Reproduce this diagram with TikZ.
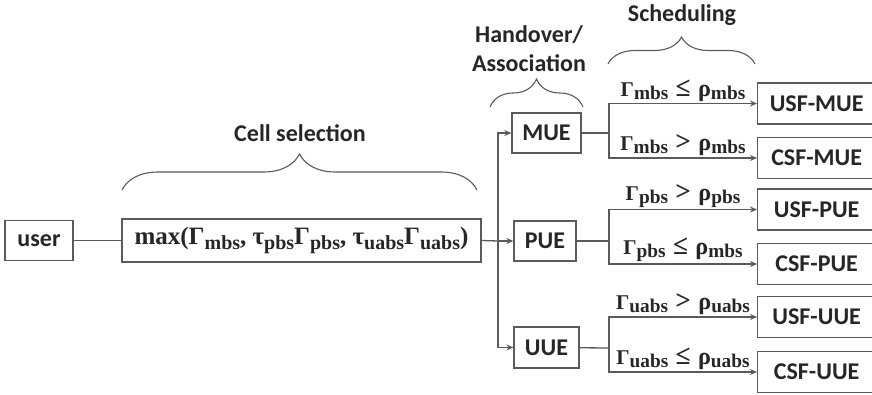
\documentclass[tikz,border=0pt]{standalone}
\usepackage{fontspec}
\setmainfont{Carlito}
\newfontfamily\greekfont{Liberation Serif}
\usetikzlibrary{decorations.pathreplacing,arrows.meta}
\definecolor{linegray}{HTML}{5A5A5A}
\definecolor{textgray}{HTML}{262626}
\newcommand{\lowsub}[1]{\raisebox{-0.2em}{\scalebox{0.8}{#1}}}
\newcommand{\condsub}[1]{\raisebox{-0.15em}{\scalebox{0.92}{#1}}}
\newcommand{\cond}[3]{{\greekfont\bfseries Γ\condsub{#1}\hspace{0.35em}\scalebox{1.3}{#2}\hspace{0.35em}\scalebox{1.15}{ρ}\condsub{#3}}}

\begin{document}
\begin{tikzpicture}[x=1pt,y=-1pt,thick]

    % `block' is used for every box.
    % `sched' is used for the scheduling boxes on the right.
    % `branch' and `wire' are the connectors, `cond' the conditions.
    \tikzstyle{block} = [draw=linegray,fill=white,line width=1.3pt,inner sep=0pt,
        text=textgray,font=\fontsize{24}{28}\selectfont\bfseries]
    \tikzstyle{sched} = [block,anchor=west,minimum width=118,minimum height=41]
    \tikzstyle{wire} = [draw=linegray,line width=1.3pt]
    \tikzstyle{branch} = [wire,-{Stealth[length=7pt,width=6pt]}]
    \tikzstyle{cond} = [above,inner sep=1.5pt,text=textgray,font=\fontsize{21}{25}\selectfont]
    \tikzstyle{title} = [text=textgray,font=\fontsize{24}{29}\selectfont\bfseries]
    \tikzstyle{group} = [draw=linegray,line width=1.1pt,decorate]
    %
    \useasboundingbox (0,0) rectangle (872,395);

    % Left part.
    \node[block,minimum width=68,minimum height=40] (user) at (39,240.5) {user};
    \node[block,minimum width=359,minimum height=43] (select) at (301.5,240.5)
        {\greekfont\fontsize{25}{30}\selectfont max(Γ\lowsub{mbs}, τ\lowsub{pbs}Γ\lowsub{pbs}, τ\lowsub{uabs}Γ\lowsub{uabs})};

    % Associated users.
    \node[block,minimum width=69,minimum height=40] (mue) at (546.5,133) {MUE};
    \node[block,minimum width=62,minimum height=40] (pue) at (545,241) {PUE};
    \node[block,minimum width=65,minimum height=41] (uue) at (546.5,347.5) {UUE};

    % Scheduling results.
    \node[sched] (usfm) at (757,103.5) {USF-MUE};
    \node[sched] (csfm) at (757,158) {CSF-MUE};
    \node[sched] (usfp) at (757,209.5) {USF-PUE};
    \node[sched] (csfp) at (757,264) {CSF-PUE};
    \node[sched] (usfu) at (757,317) {USF-UUE};
    \node[sched] (csfu) at (757,372) {CSF-UUE};

    \coordinate (hub) at (498,241);
    \coordinate (bm) at (609,133);
    \coordinate (bp) at (609,241);
    \coordinate (bu) at (609,348);

    % Draw lines.
    \draw[wire] (user) -- (select);
    \draw[wire] (select.east) -- (hub);
    \draw[branch] (hub) |- (mue);
    \draw[branch] (hub) -- (pue);
    \draw[branch] (hub) |- (uue);

    \draw[wire] (mue) -- (bm);
    \draw[wire] (pue) -- (bp);
    \draw[wire] (uue) -- (bu);
    \draw[branch] (bm) |- node[cond,pos=0.75] {\cond{mbs}{≤}{mbs}} (usfm);
    \draw[branch] (bm) |- node[cond,pos=0.75] {\cond{mbs}{>}{mbs}} (csfm);
    \draw[branch] (bp) |- node[cond,pos=0.75] {\cond{pbs}{>}{pbs}} (usfp);
    \draw[branch] (bp) |- node[cond,pos=0.75] {\cond{pbs}{≤}{mbs}} (csfp);
    \draw[branch] (bu) |- node[cond,pos=0.75] {\cond{uabs}{>}{uabs}} (usfu);
    \draw[branch] (bu) |- node[cond,pos=0.75] {\cond{uabs}{≤}{uabs}} (csfu);

    % Braces and their titles.
    \draw[group,decoration={brace,amplitude=36pt}] (122,190) -- (477,190);
    \draw[group,decoration={brace,amplitude=28pt}] (490,107) -- (583,107);
    \draw[group,decoration={brace,amplitude=27pt}] (608,64) -- (755,64);
    \node[title] (cellsel) at (300,133) {Cell selection};
    \node[title,align=center] (handover) at (529,49) {Handover/\\Association};
    \node[title] (scheduling) at (682,15) {Scheduling};
    %
\end{tikzpicture}
\end{document}
